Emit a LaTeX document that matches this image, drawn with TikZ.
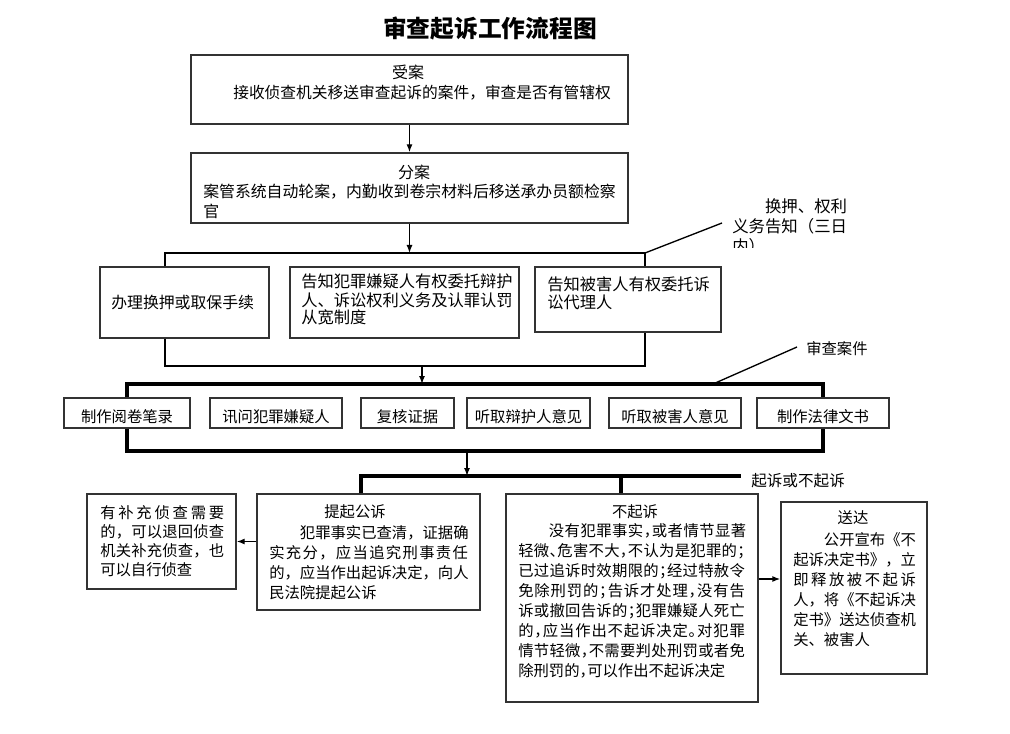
\documentclass[tikz,border=0pt]{standalone}
\usepackage{fontspec}
\setmainfont{Noto Sans CJK SC}
\newfontfamily\halffont{Noto Sans CJK SC}[RawFeature=+halt]
\usetikzlibrary{arrows.meta,fit}
\def\sprloop#1{\ifx#1\relax\else#1\hfill\expandafter\sprloop\fi}
\newcommand\spreadto[2]{\makebox[#1][s]{\sprloop#2\relax\unskip}}
\tikzset{
  box/.style={draw=black!80, line width=1pt, inner sep=0pt},
  conn/.style={line width=1pt},
  brk/.style={line width=1.5pt},
  brkT/.style={line width=2.3pt},
  arr/.style={-{Latex[length=6pt,width=4.5pt]}, line width=1pt},
  hd/.style={inner sep=0pt},
  body/.style={inner sep=0pt, anchor=base west, align=left},
  lbl/.style={inner sep=0pt, anchor=base},
  fA/.style={font=\fontsize{12}{15}\selectfont},
  fB/.style={font=\fontsize{11.5}{15}\selectfont}
}
\begin{document}
\begin{tikzpicture}[x=0.75pt,y=-0.75pt]
\useasboundingbox[fill=white] (0,0) rectangle (1010,734);
% title
\node[hd, font=\bfseries\fontsize{17.8}{20}\selectfont] (title) at (490,28) {审查起诉工作流程图};
% box 1
\node[box, fit={(191,55)(628,124)}] (b1) {};
\node[hd, fA] (b1h) at (408,72) {受案};
\node[body, font=\fontsize{11.8}{15}\selectfont, text width=300pt] (b1t) at (233,99) {接收侦查机关移送审查起诉的案件，审查是否有管辖权};
% box 2
\node[box, fit={(191,153)(628,223)}] (b2) {};
\node[hd, fA] (b2h) at (414,172) {分案};
\node[body, font=\fontsize{11.9}{15}\selectfont, text width=318pt] (b2t) at (203,198) {案管系统自动轮案，内勤收到卷宗材料后移送承办员额检察\\官};
\draw[arr] (b1.south) -- (b2.north);
% row 2
\node[box, fit={(100,267)(269,338)}] (bA) {};
\node[body, font=\fontsize{11.9}{15}\selectfont, text width=120pt] (bAt) at (111,309) {办理换押或取保手续};
\node[box, fit={(290,267)(519,338)}] (bB) {};
\node[body, font=\fontsize{12.2}{13.5}\selectfont, text width=165pt] (bBt) at (301,288) {告知犯罪嫌疑人有权委托辩护\\人、诉讼权利义务及认罪认罚\\从宽制度};
\node[box, fit={(535,267)(721,332)}] (bC) {};
\node[body, font=\fontsize{12.2}{13.5}\selectfont, text width=130pt] (bCt) at (547,291) {告知被害人有权委托诉\\讼代理人};
\coordinate (k1) at (165,253);
\coordinate (k2) at (645,253);
\draw[brk] (k1 |- bA.north) -- (k1) -- (k2) -- (k2 |- bC.north);
\draw[arr] (b2.south) -- (b2.south |- k1);
% callout 1
\coordinate (c1) at (722,223);
\draw[conn] (k2) -- (c1);
\begin{scope}
\clip (725,190) rectangle (870,248);
\node[body, font=\fontsize{12.3}{15}\selectfont, text width=100pt] (note1) at (732,213) {\hspace*{2em}换押、权利\\义务告知（三日\\内）};
\end{scope}
% join below row 2
\coordinate (k3) at (165,366);
\coordinate (k4) at (645,366);
\draw[brk] (bA.south -| k3) -- (k3) -- (k4) -- (bC.south -| k4);
\coordinate (m1) at (422,366);
% row 3
\node[box, fit={(64,398)(190,428)}] (r1) {};
\node[box, fit={(210,398)(342,428)}] (r2) {};
\node[box, fit={(361,398)(454,428)}] (r3) {};
\node[box, fit={(467,398)(590,428)}] (r4) {};
\node[box, fit={(609,398)(741,428)}] (r5) {};
\node[box, fit={(757,398)(889,428)}] (r6) {};
\node[lbl, fB] (r1t) at (127,422) {制作阅卷笔录};
\node[lbl, fB] (r2t) at (276,422) {讯问犯罪嫌疑人};
\node[lbl, fB] (r3t) at (407.5,422) {复核证据};
\node[lbl, fB] (r4t) at (528.5,422) {听取辩护人意见};
\node[lbl, fB] (r5t) at (675,422) {听取被害人意见};
\node[lbl, fB] (r6t) at (823,422) {制作法律文书};
\coordinate (k5) at (127,384);
\coordinate (k6) at (823,384);
\draw[brkT] (r1.north) -- (r1.north |- k5) -- (r6.north |- k6) -- (r6.north);
\draw[arr] (m1) -- (m1 |- k5);
% callout 2
\coordinate (c2a) at (713,384);
\coordinate (c2b) at (797,347);
\draw[conn] (c2a) -- (c2b);
\node[body, fB] (note2) at (806,354) {审查案件};
% join below row 3
\coordinate (k7) at (127,451);
\draw[brkT] (r1.south) -- (r1.south |- k7) -- (r6.south |- k7) -- (r6.south);
\coordinate (m3) at (467,451);
% decision bracket
\coordinate (q1) at (361,476);
\coordinate (q2) at (621,476);
\coordinate (q3) at (741,476);
\draw[arr] (m3) -- (m3 |- q1);
\node[body, font=\fontsize{11.7}{15}\selectfont] (note3) at (751,486) {起诉或不起诉};
% bottom boxes
\node[box, fit={(87,494)(236,589)}] (p1) {};
\node[body, font=\fontsize{11.5}{14.25}\selectfont, text width=100pt] (p1t) at (100,518) {\spreadto{93pt}{有补充侦查需要}\\\spreadto{93pt}{的，可以退回侦查}\\\spreadto{93pt}{机关补充侦查，也}\\可以自行侦查};
\node[box, fit={(257,494)(480,610)}] (p2) {};
\node[hd, fB] (p2h) at (355,512) {提起公诉};
\node[body, fB, text width=160pt] (p2t) at (269,538) {\hspace*{2em}犯罪事实已查清，证据确\\\spreadto{149pt}{实充分，应当追究刑事责任}\\的，应当作出起诉决定，向人\\民法院提起公诉};
\node[box, fit={(506,494)(758,702)}] (n) {};
\node[hd, fB] (nh) at (635,512) {不起诉};
\node[body, font=\halffont\fontsize{11.5}{15}\selectfont, text width=180pt] (nt) at (518,536) {\hspace*{2em}\spreadto{148pt}{没有犯罪事实，或者情节显著}\\\spreadto{170pt}{轻微、危害不大，不认为是犯罪的；}\\\spreadto{170pt}{已过追诉时效期限的；经过特赦令}\\\spreadto{170pt}{免除刑罚的；告诉才处理，没有告}\\\spreadto{170pt}{诉或撤回告诉的；犯罪嫌疑人死亡}\\\spreadto{170pt}{的，应当作出不起诉决定。对犯罪}\\\spreadto{170pt}{情节轻微，不需要判处刑罚或者免}\\除刑罚的，可以作出不起诉决定};
\node[box, fit={(781,502)(927,674)}] (s) {};
\node[hd, fB] (sh) at (853,518) {送达};
\node[body, fB, text width=100pt] (st) at (793,545) {\hspace*{2em}公开宣布《不\\起诉决定书》，立\\\spreadto{92pt}{即释放被不起诉}\\人，将《不起诉决\\定书》送达侦查机\\关、被害人};
\draw[brkT] (p2.north -| q1) -- (q1) -- (q3);
\draw[brkT] (q2) -- (n.north -| q2);
\draw[arr] (p1.east -| p2.west) -- (p1.east);
\coordinate (ns) at (770,579);
\draw[arr] (ns -| n.east) -- (ns -| s.west);
\end{tikzpicture}
\end{document}
